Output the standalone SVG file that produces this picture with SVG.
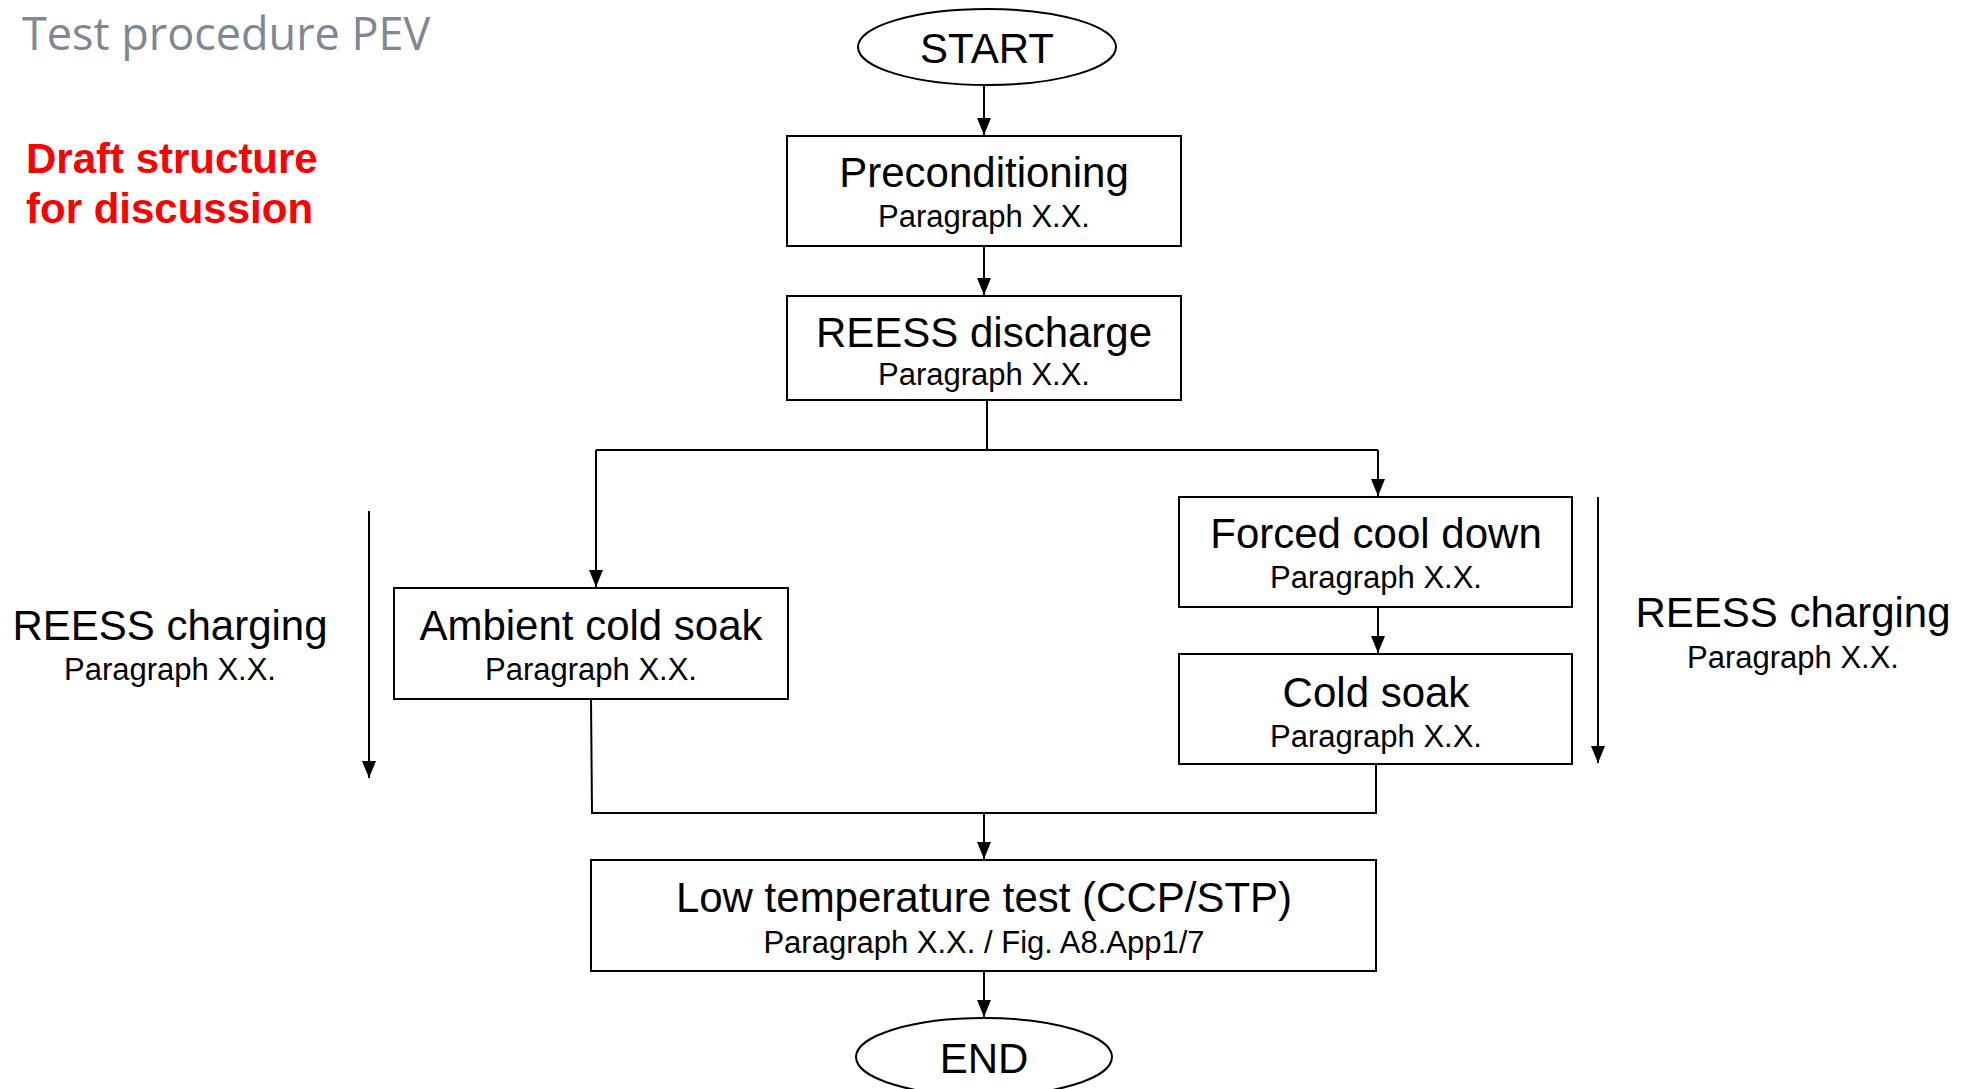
<svg xmlns="http://www.w3.org/2000/svg" width="1970" height="1089" viewBox="0 0 1970 1089">
<defs>
<marker id="ah" markerUnits="userSpaceOnUse" markerWidth="18" markerHeight="14" refX="17" refY="7" orient="auto" viewBox="0 0 18 14">
<path d="M0,0 L17,7 L0,14 Z" fill="#000"/>
</marker>
<style>
.box{fill:#fff;stroke:#000;stroke-width:2}
.ln{fill:none;stroke:#000;stroke-width:2}
.h{font-family:"Liberation Sans",Arial,sans-serif;font-size:42px;fill:#000;text-anchor:middle}
.p{font-family:"Liberation Sans",Arial,sans-serif;font-size:31px;fill:#000;text-anchor:middle}
.red{font-family:"Liberation Sans",Arial,sans-serif;font-size:42px;font-weight:bold;fill:#ff0000}
.title{font-family:"Open Sans","Noto Sans",sans-serif;font-size:45px;fill:#7f8792}
</style>
</defs>
<rect width="1970" height="1089" fill="#fff"/>
<text class="title" x="22" y="50">Test procedure PEV</text>
<text class="red" x="26" y="173">Draft structure</text>
<text class="red" x="26" y="223">for discussion</text>

<g id="connectors">
<line class="ln" x1="984" y1="86" x2="984" y2="135" marker-end="url(#ah)"/>
<line class="ln" x1="984" y1="246" x2="984" y2="295" marker-end="url(#ah)"/>
<polyline class="ln" points="987,400 987,450"/>
<polyline class="ln" points="596,450 1378,450"/>
<line class="ln" x1="596" y1="450" x2="596" y2="587" marker-end="url(#ah)"/>
<line class="ln" x1="1378" y1="450" x2="1378" y2="496" marker-end="url(#ah)"/>
<line class="ln" x1="1378" y1="607" x2="1378" y2="653" marker-end="url(#ah)"/>
<polyline class="ln" points="591,699 592,813 1376,813 1376,764"/>
<line class="ln" x1="984" y1="813" x2="984" y2="859" marker-end="url(#ah)"/>
<line class="ln" x1="984" y1="971" x2="984" y2="1017" marker-end="url(#ah)"/>
<line class="ln" x1="369" y1="511" x2="369" y2="778" marker-end="url(#ah)"/>
<line class="ln" x1="1598" y1="497" x2="1598" y2="763" marker-end="url(#ah)"/>
</g>

<g id="start">
<ellipse class="box" cx="987" cy="47" rx="129" ry="38"/>
<text class="h" x="987" y="63">START</text>
</g>
<g id="preconditioning">
<rect class="box" x="787" y="136" width="394" height="110"/>
<text class="h" x="984" y="187">Preconditioning</text>
<text class="p" x="984" y="227">Paragraph X.X.</text>
</g>
<g id="reess-discharge">
<rect class="box" x="787" y="296" width="394" height="104"/>
<text class="h" x="984" y="347">REESS discharge</text>
<text class="p" x="984" y="385">Paragraph X.X.</text>
</g>
<g id="ambient-cold-soak">
<rect class="box" x="394" y="588" width="394" height="111"/>
<text class="h" x="591" y="640">Ambient cold soak</text>
<text class="p" x="591" y="680">Paragraph X.X.</text>
</g>
<g id="forced-cool-down">
<rect class="box" x="1179" y="497" width="393" height="110"/>
<text class="h" x="1376" y="548">Forced cool down</text>
<text class="p" x="1376" y="588">Paragraph X.X.</text>
</g>
<g id="cold-soak">
<rect class="box" x="1179" y="654" width="393" height="110"/>
<text class="h" x="1376" y="707">Cold soak</text>
<text class="p" x="1376" y="747">Paragraph X.X.</text>
</g>
<g id="low-temp-test">
<rect class="box" x="591" y="860" width="785" height="111"/>
<text class="h" x="984" y="912">Low temperature test (CCP/STP)</text>
<text class="p" x="984" y="953">Paragraph X.X. / Fig. A8.App1/7</text>
</g>
<g id="end">
<ellipse class="box" cx="984" cy="1057" rx="128" ry="39"/>
<text class="h" x="984" y="1073">END</text>
</g>
<g id="reess-charging-left">
<text class="h" x="170" y="640">REESS charging</text>
<text class="p" x="170" y="680">Paragraph X.X.</text>
</g>
<g id="reess-charging-right">
<text class="h" x="1793" y="627">REESS charging</text>
<text class="p" x="1793" y="668">Paragraph X.X.</text>
</g>
</svg>
